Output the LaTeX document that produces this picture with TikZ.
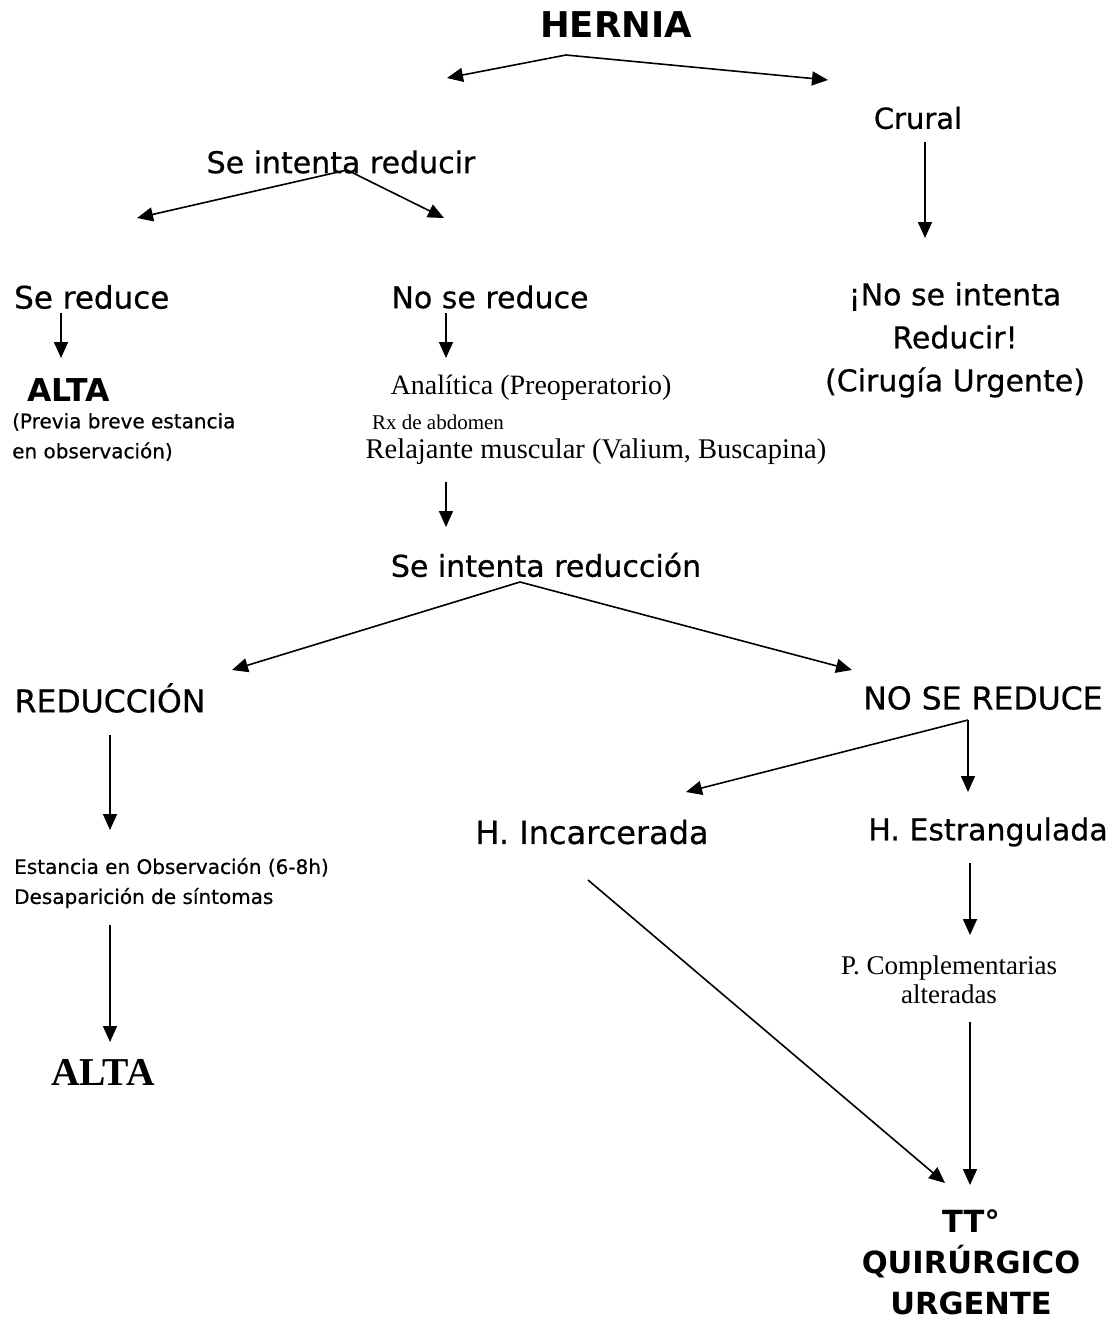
\documentclass[tikz,border=0pt]{standalone}
\usepackage{fontspec}
\setmainfont{Liberation Serif}
\newfontfamily\comicfont[FakeBold=0.6]{DejaVu Sans}
\newfontfamily\comicbold{DejaVu Sans Bold}
\usetikzlibrary{arrows.meta}

\begin{document}
\begin{tikzpicture}[x=1pt, y=-1pt,
    txt/.style={inner sep=0pt, font=\comicfont\fontsize{30}{43}\selectfont, align=center},
    capstxt/.style={inner sep=0pt, font=\comicfont\fontsize{31.5}{40}\selectfont},
    smalltxt/.style={inner sep=0pt, font=\comicfont\fontsize{20}{30}\selectfont, align=left},
    boldtxt/.style={inner sep=0pt, font=\comicbold\fontsize{30.5}{41}\selectfont, align=center},
    serif/.style={inner sep=0pt, font=\fontsize{28.5}{30}\selectfont, align=center},
    arrow/.style={-{Triangle[length=16pt,width=14pt]}, line width=1.6pt}
]
\useasboundingbox (0,0) rectangle (1111,1323);

% Top
\node at (616,25) [boldtxt, font=\comicbold\fontsize{35.5}{40}\selectfont] (hernia) {HERNIA};
\node at (918,118) [txt, font=\comicfont\fontsize{29}{30}\selectfont] (crural) {Crural};
\node at (341,162) [txt] (intenta) {Se intenta reducir};

% Second row
\node at (14,297) [txt, anchor=west, font=\comicfont\fontsize{31}{40}\selectfont] (sered) {Se reduce};
\node at (490,297) [txt] (nosered) {No se reduce};
\node at (955,340) [txt] (nointenta) {¡No se intenta\\Reducir!\\(Cirugía Urgente)};

% Left branch
\node at (27,390) [boldtxt, anchor=west, font=\comicbold\fontsize{31.5}{40}\selectfont] (alta1) {ALTA};
\node at (12,437) [smalltxt, anchor=west] (previa) {(Previa breve estancia\\en observación)};

% Middle branch
\node at (531,388) [serif, font=\fontsize{28}{30}\selectfont] (analitica) {Analítica (Preoperatorio)};
\node at (438,422) [serif, font=\fontsize{21}{24}\selectfont] (rx) {Rx de abdomen};
\node at (596,452) [serif] (relajante) {Relajante muscular (Valium, Buscapina)};
\node at (546,565) [txt] (intred) {Se intenta reducción};

% Third row
\node at (110,698) [capstxt] (reduccion) {REDUCCIÓN};
\node at (983,698) [capstxt] (noreduce) {NO SE REDUCE};
\node at (592,832) [txt, font=\comicfont\fontsize{32}{40}\selectfont] (incarc) {H. Incarcerada};
\node at (988,832) [txt] (estrang) {H. Estrangulada};

% Bottom
\node at (14,883) [smalltxt, anchor=west] (estancia) {Estancia en Observación (6-8h)\\Desaparición de síntomas};
\node at (103,1072) [serif, font=\bfseries\fontsize{39.5}{40}\selectfont] (alta2) {ALTA};
\node at (949,980) [serif, font=\fontsize{27}{29}\selectfont] (pcompl) {P. Complementarias\\alteradas};
\node at (971,1262) [boldtxt] (ttq) {TT°\\QUIRÚRGICO\\URGENTE};

% Arrow points
\coordinate (hernia-s) at (566,55);
\coordinate (hernia-l) at (447,78);
\coordinate (hernia-r) at (828,80);
\coordinate (crural-s) at (925,142);
\coordinate (crural-e) at (925,238);
\coordinate (intenta-s) at (347,170);
\coordinate (intenta-l) at (137,218);
\coordinate (intenta-r) at (444,218);
\coordinate (sered-s) at (61,313);
\coordinate (alta1-n) at (61,358);
\coordinate (nosered-s) at (446,313);
\coordinate (analitica-n) at (446,358);
\coordinate (relajante-s) at (446,482);
\coordinate (intred-n) at (446,527);
\coordinate (intred-s) at (520,582);
\coordinate (reduccion-n) at (232,670);
\coordinate (noreduce-n) at (852,670);
\coordinate (reduccion-s) at (110,735);
\coordinate (estancia-n) at (110,830);
\coordinate (noreduce-s) at (968,720);
\coordinate (incarc-n) at (686,792);
\coordinate (estrang-n) at (968,792);
\coordinate (estancia-s) at (110,925);
\coordinate (alta2-n) at (110,1042);
\coordinate (estrang-s) at (970,863);
\coordinate (pcompl-n) at (970,935);
\coordinate (pcompl-s) at (970,1022);
\coordinate (ttq-n) at (970,1185);
\coordinate (incarc-s) at (588,880);
\coordinate (ttq-nw) at (945,1183);

% Arrows
\draw [arrow] (hernia-s) -- (hernia-l);
\draw [arrow] (hernia-s) -- (hernia-r);
\draw [arrow] (crural-s) -- (crural-e);
\draw [arrow] (intenta-s) -- (intenta-l);
\draw [arrow] (intenta-s) -- (intenta-r);
\draw [arrow] (sered-s) -- (alta1-n);
\draw [arrow] (nosered-s) -- (analitica-n);
\draw [arrow] (relajante-s) -- (intred-n);
\draw [arrow] (intred-s) -- (reduccion-n);
\draw [arrow] (intred-s) -- (noreduce-n);
\draw [arrow] (reduccion-s) -- (estancia-n);
\draw [arrow] (noreduce-s) -- (incarc-n);
\draw [arrow] (noreduce-s) -- (estrang-n);
\draw [arrow] (estancia-s) -- (alta2-n);
\draw [arrow] (estrang-s) -- (pcompl-n);
\draw [arrow] (pcompl-s) -- (ttq-n);
\draw [arrow] (incarc-s) -- (ttq-nw);

\end{tikzpicture}
\end{document}
